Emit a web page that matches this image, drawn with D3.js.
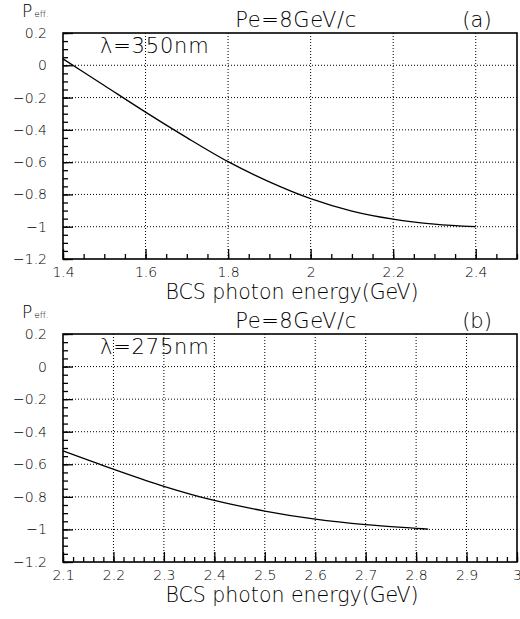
<!DOCTYPE html>
<html>
<head>
<meta charset="utf-8">
<script src="https://cdn.jsdelivr.net/npm/d3@7"></script>
<style>
    body { margin: 0; background: #fff; }
    svg { display: block; font-family: "DejaVu Sans", sans-serif; font-weight: 200; }
    .grid line { stroke: #000; stroke-width: 1; stroke-dasharray: 1,2; }
</style>
</head>
<body>
<svg id="svg" width="520" height="619"></svg>
<script>
// panel (a): lambda = 350nm
const energyA = [1.4, 1.5, 1.6, 1.7, 1.8, 1.9, 2.0, 2.1, 2.2, 2.3, 2.4]
const peffA = [0.04, -0.125, -0.29, -0.448, -0.597, -0.722, -0.826, -0.903, -0.953, -0.984, -1.0]
const xTicksA = [1.4, 1.6, 1.8, 2.0, 2.2, 2.4]

// panel (b): lambda = 275nm
const energyB = [2.1, 2.2, 2.3, 2.4, 2.5, 2.6, 2.7, 2.8, 2.824]
const peffB = [-0.518, -0.630, -0.735, -0.822, -0.887, -0.937, -0.971, -0.993, -0.998]
const xTicksB = [2.1, 2.2, 2.3, 2.4, 2.5, 2.6, 2.7, 2.8, 2.9, 3]

const yTicks = [0.2, 0, -0.2, -0.4, -0.6, -0.8, -1, -1.2]

const svg = d3.select('#svg')

const drawPanel = (p) => {
    const margin = { left: 63, right: 517 }
    const g = svg.append('g')

    const xScale = d3.scaleLinear().domain(p.xDomain).range([margin.left, margin.right])
    const yScale = d3.scaleLinear().domain([-1.2, 0.2]).range([p.bottom, p.top])

    // dotted grid at the major ticks
    const grid = g.append('g').attr('class', 'grid')
    grid.selectAll('.gx')
        .data(p.xTicks.filter((d) => d > p.xDomain[0] && d < p.xDomain[1]))
        .join('line')
        .attr('x1', (d) => xScale(d)).attr('x2', (d) => xScale(d))
        .attr('y1', p.top).attr('y2', p.bottom)
    grid.selectAll('.gy')
        .data(yTicks.filter((d) => d > -1.2 && d < 0.2))
        .join('line')
        .attr('x1', margin.left).attr('x2', margin.right)
        .attr('y1', (d) => yScale(d)).attr('y2', (d) => yScale(d))

    // minor ticks
    g.append('g')
        .attr('transform', `translate(0,${p.bottom})`)
        .call(d3.axisBottom(xScale).tickValues(d3.range(p.xDomain[0], p.xDomain[1] + 1e-9, p.xMinor)).tickSize(-5).tickFormat(''))
        .call((a) => a.select('.domain').remove())
    g.append('g')
        .attr('transform', `translate(${margin.left},0)`)
        .call(d3.axisLeft(yScale).tickValues(d3.range(-1.2, 0.2 + 1e-9, 0.05)).tickSize(-5).tickFormat(''))
        .call((a) => a.select('.domain').remove())

    // major ticks + labels
    g.append('g')
        .attr('transform', `translate(0,${p.bottom})`)
        .call(d3.axisBottom(xScale).tickValues(p.xTicks).tickSize(-10).tickPadding(8).tickFormat((d) => String(d)))
        .call((a) => a.select('.domain').remove())
        .attr('font-size', 14).attr('font-family', null)
    g.append('g')
        .attr('transform', `translate(${margin.left},0)`)
        .call(d3.axisLeft(yScale).tickValues(yTicks).tickSize(-10).tickPadding(16).tickFormat(d3.format('~g')))
        .call((a) => a.select('.domain').remove())
        .attr('font-size', 14).attr('font-family', null)

    g.selectAll('.tick line').attr('stroke', '#000').attr('stroke-width', 1.3)
    g.selectAll('.tick text').attr('fill', '#000')

    // frame
    g.append('rect')
        .attr('x', margin.left).attr('y', p.top)
        .attr('width', margin.right - margin.left).attr('height', p.bottom - p.top)
        .attr('fill', 'none').attr('stroke', '#000').attr('stroke-width', 1.6)

    // curve
    const line = d3.line()
        .x((d, i) => xScale(p.energy[i]))
        .y((d) => yScale(d))
        .curve(d3.curveMonotoneX)
    g.append('path')
        .datum(p.peff)
        .attr('d', line)
        .attr('fill', 'none')
        .attr('stroke', '#000')
        .attr('stroke-width', 1.3)

    // texts
    const peff = g.append('text').attr('x', 22).attr('y', p.top - 16).attr('font-size', 17)
    peff.append('tspan').text('P')
    peff.append('tspan').attr('font-size', 9).attr('dx', 2).text('eff.')

    g.append('text')
        .attr('x', 296).attr('y', p.top - 6)
        .attr('text-anchor', 'middle').attr('font-size', 21).attr('letter-spacing', 0.6)
        .text('Pe=8GeV/c')
    g.append('text')
        .attr('x', 477).attr('y', p.top - 6)
        .attr('text-anchor', 'middle').attr('font-size', 21)
        .text(p.tag)
    g.append('text')
        .attr('x', 100).attr('y', p.top + 20)
        .attr('font-size', 21).attr('letter-spacing', 0.8)
        .text(p.lambda)
    g.append('text')
        .attr('x', 292).attr('y', p.bottom + 40)
        .attr('text-anchor', 'middle').attr('font-size', 20.5)
        .text('BCS photon energy(GeV)')
}

drawPanel({ top: 33, bottom: 259, xDomain: [1.4, 2.5], xTicks: xTicksA, xMinor: 0.05, energy: energyA, peff: peffA, tag: '(a)', lambda: 'λ=350nm' })
drawPanel({ top: 334, bottom: 562, xDomain: [2.1, 3.0], xTicks: xTicksB, xMinor: 0.02, energy: energyB, peff: peffB, tag: '(b)', lambda: 'λ=275nm' })
</script>
</body>
</html>
